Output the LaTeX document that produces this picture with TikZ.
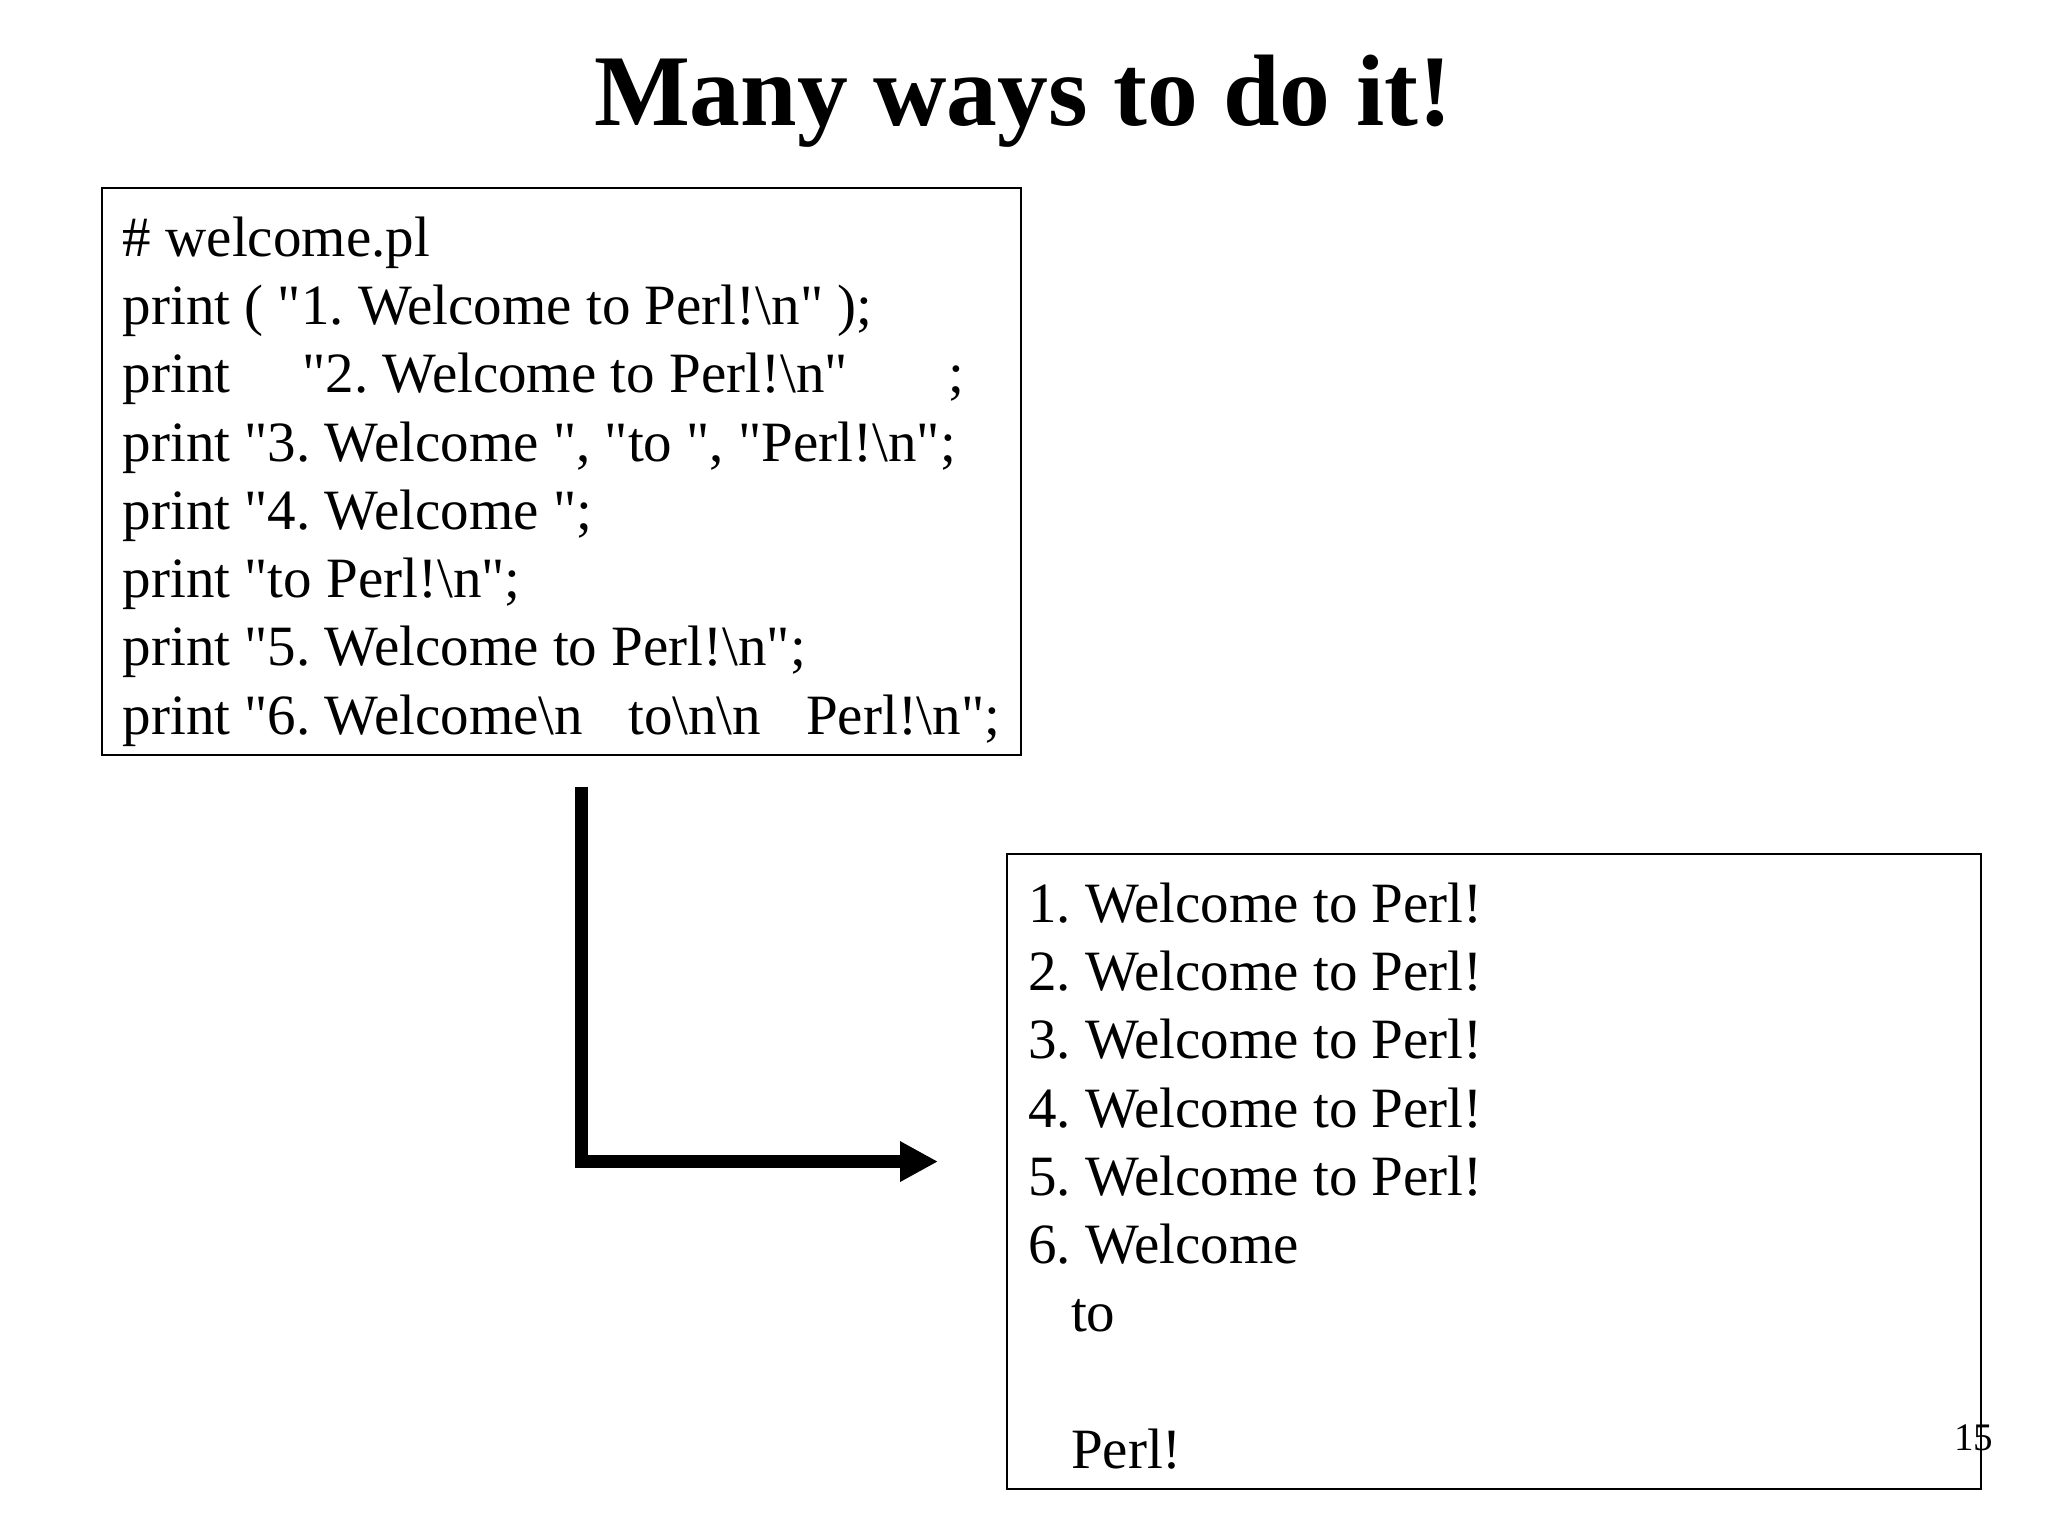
\documentclass[tikz,border=0pt]{standalone}
\usepackage{fontspec}
\setmainfont{Liberation Serif}[Ligatures=TeXOff]
\usetikzlibrary{arrows.meta,positioning}

\newcommand{\bs}{\textbackslash}
\newcommand{\firstline}{\rule{0bp}{68bp}}

\begin{document}
\begin{tikzpicture}[
  listing/.style={draw,line width=2.2bp,anchor=north west,inner xsep=21bp,inner ysep=0bp,align=flush left,font=\fontsize{57bp}{68.3bp}\selectfont\frenchspacing},
  flow/.style={line width=13bp,-{Triangle[length=38bp,width=38bp]}}]

\useasboundingbox (0bp,0bp) rectangle (2048bp,-1536bp);

\node (title) at (1023bp,-125bp)[anchor=base,font=\fontsize{101.6bp}{120bp}\selectfont\bfseries] {Many ways to do it!};

\node (code) at (100.7bp,-187bp)[listing] {\firstline\# welcome.pl\\
print ( "1. Welcome to Perl!\bs n" );\\
print\hspace{72bp}"2. Welcome to Perl!\bs n"\hspace{101bp};\\
print "3. Welcome ", "to ", "Perl!\bs n";\\
print "4. Welcome ";\\
print "to Perl!\bs n";\\
print "5. Welcome to Perl!\bs n";\\
print "6. Welcome\bs n\hspace{45bp}to\bs n\bs n\hspace{45bp}Perl!\bs n";\strut};

\node (output) at (1006bp,-853bp)[listing,text width=932bp] {\firstline 1. Welcome to Perl!\\
2. Welcome to Perl!\\
3. Welcome to Perl!\\
4. Welcome to Perl!\\
5. Welcome to Perl!\\
6. Welcome\\
\hspace*{43bp}to\\
\strut\\
\hspace*{43bp}Perl!\strut};

\node (page) at (1954bp,-1450bp)[anchor=base west,inner sep=0bp,font=\fontsize{39bp}{47bp}\selectfont] {15};

\coordinate (flowstart) at ([xshift=20bp,yshift=-31bp]code.south);
\coordinate (flowend) at ([xshift=-68bp,yshift=10bp]output.west);
\draw [flow] (flowstart) |- (flowend);
\end{tikzpicture}
\end{document}
